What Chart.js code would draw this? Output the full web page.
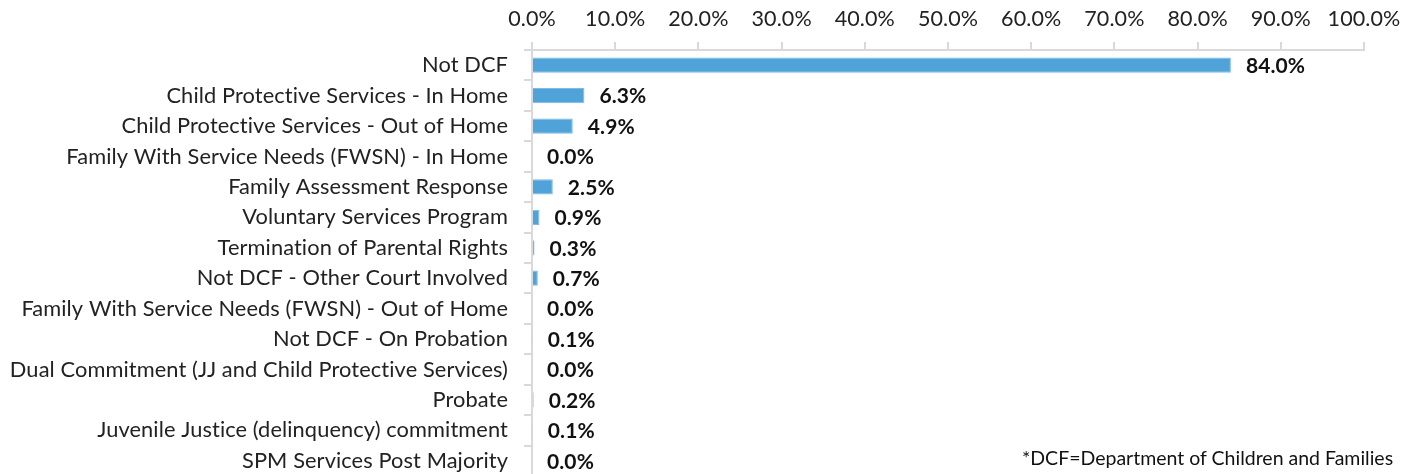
<!DOCTYPE html>
<html>
<head>
<meta charset="utf-8">
<script src="https://cdn.jsdelivr.net/npm/chart.js@4"></script>
<style>
  html, body { margin: 0; padding: 0; background: #fff; overflow: hidden; }
  #wrap { position: relative; width: 1419px; height: 480px; }
  #note {
    position: absolute; left: 1022px; top: 446px;
    font-family: Lato, sans-serif; font-size: 19.5px; color: #111;
    white-space: nowrap; font-variant-ligatures: none;
  }
</style>
</head>
<body>
<div id="wrap">
  <canvas id="placementChart" width="1419" height="480"></canvas>
  <div id="note">*DCF=Department of Children and Families</div>
</div>
<script>
// Chart data
const categories = [
  "Not DCF",
  "Child Protective Services - In Home",
  "Child Protective Services - Out of Home",
  "Family With Service Needs (FWSN) - In Home",
  "Family Assessment Response",
  "Voluntary Services Program",
  "Termination of Parental Rights",
  "Not DCF - Other Court Involved",
  "Family With Service Needs (FWSN) - Out of Home",
  "Not DCF - On Probation",
  "Dual Commitment (JJ and Child Protective Services)",
  "Probate",
  "Juvenile Justice (delinquency) commitment",
  "SPM Services Post Majority",
];
const percentValues = [84.0, 6.3, 4.9, 0.0, 2.5, 0.9, 0.3, 0.7, 0.0, 0.1, 0.0, 0.2, 0.1, 0.0];
const tickValues = [0, 10, 20, 30, 40, 50, 60, 70, 80, 90, 100];

const FONT = "Lato, sans-serif";
const GRID = "#d9d9d9";

// Tiny letter spacing so Lato doesn't form the "ti" ligature
const noLigatures = {
  id: "noLigatures",
  beforeDraw(chart) {
    chart.ctx.letterSpacing = "0.1px";
  },
};

// Draws the bold value labels right of each bar end
const valueLabels = {
  id: "valueLabels",
  afterDatasetsDraw(chart) {
    const ctx = chart.ctx;
    const meta = chart.getDatasetMeta(0);
    ctx.save();
    ctx.font = "bold 21px " + FONT;
    ctx.fillStyle = "#111";
    ctx.textAlign = "left";
    ctx.textBaseline = "middle";
    meta.data.forEach((bar, i) => {
      ctx.fillText(percentValues[i].toFixed(1) + "%", bar.x + 15, bar.y + 1);
    });
    ctx.restore();
  },
};

const ctx = document.getElementById("placementChart").getContext("2d");
const chart = new Chart(ctx, {
  type: "bar",
  data: {
    labels: categories,
    datasets: [
      {
        data: percentValues,
        backgroundColor: "#4fa3d9",
        borderColor: "#7dbbe6",
        borderWidth: 1,
        barPercentage: 0.5,
        categoryPercentage: 1,
      },
    ],
  },
  options: {
    indexAxis: "y",
    responsive: false,
    animation: false,
    layout: { padding: { top: 0, right: 55, bottom: 4, left: 0 } },
    plugins: {
      legend: { display: false },
      tooltip: { enabled: false },
    },
    scales: {
      x: {
        position: "top",
        min: 0,
        max: 100,
        afterBuildTicks: (scale) => {
          scale.ticks = tickValues.map((v) => ({ value: v }));
        },
        afterFit: (scale) => {
          scale.height = 50;
        },
        ticks: {
          font: { family: FONT, size: 21.5 },
          color: "#222",
          padding: 10,
          callback: (v) => v.toFixed(1) + "%",
        },
        grid: {
          drawOnChartArea: false,
          color: GRID,
          tickLength: 8,
          lineWidth: 2,
        },
        border: { color: GRID, width: 2 },
      },
      y: {
        afterFit: (scale) => {
          scale.width = 532;
          // keep the label padding from shrinking the plot vertically
          scale.paddingTop = 0;
          scale.paddingBottom = 0;
        },
        ticks: {
          font: { family: FONT, size: 21.8 },
          color: "#222",
          padding: 16,
          autoSkip: false,
        },
        grid: {
          drawOnChartArea: false,
          offset: true,
          color: GRID,
          tickLength: 8,
          lineWidth: 2,
        },
        border: { color: GRID, width: 2 },
      },
    },
  },
  plugins: [noLigatures, valueLabels],
});
</script>
</body>
</html>
